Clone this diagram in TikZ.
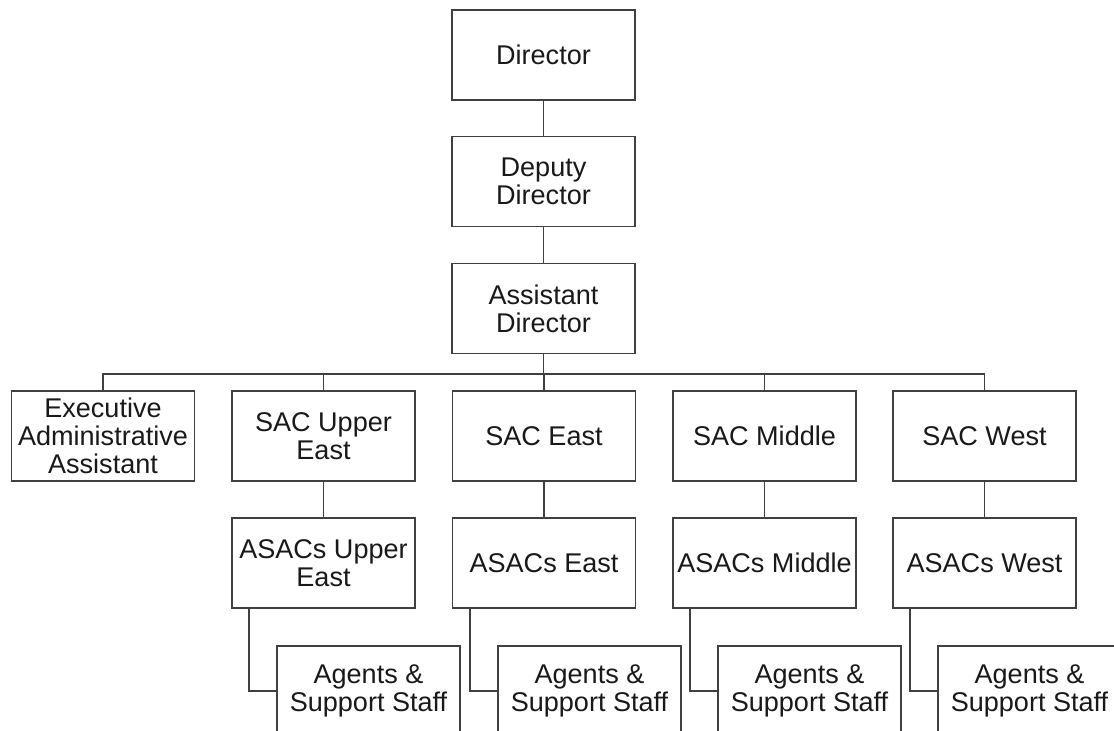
\documentclass[tikz,border=0pt]{standalone}
\usepackage{fontspec}
\setmainfont{Liberation Sans}
\usepackage{tikz}
\tikzset{every node/.style={rectangle,align=center,draw=black!75,line width=0.9pt,text=black!90,minimum width=3.66cm,minimum height=1.8cm,inner sep=1pt,font=\fontsize{15.4}{15.8}\selectfont}}
\tikzset{c/.style={draw=black!75,line width=0.9pt}}

\begin{document}
\begin{tikzpicture}[x=0.02cm,y=-0.02cm]
\useasboundingbox (0,0) rectangle (1114,730);
\clip (0,0) rectangle (1114,730);
\node(dir) at (543.5,55) {Director};
\node(dd) at (543.5,181.5) {Deputy\\Director};
\node(ad) at (543.5,308.5) {Assistant\\Director};
\node(ex) at (103,436) {Executive\\Administrative\\Assistant};
\node(ue) at (323.5,436) {SAC Upper\\East};
\node(ea) at (544,436) {SAC East};
\node(mi) at (764.5,436) {SAC Middle};
\node(we) at (984.5,436) {SAC West};
\node(aue) at (323.5,563) {ASACs Upper\\East};
\node(aea) at (544,563) {ASACs East};
\node(ami) at (764.5,563) {ASACs Middle};
\node(awe) at (984.5,563) {ASACs West};
\node(gue) at (368.5,691) {Agents \&\\Support Staff};
\node(gea) at (589.5,691) {Agents \&\\Support Staff};
\node(gmi) at (809.5,691) {Agents \&\\Support Staff};
\node(gwe) at (1029.5,691) {Agents \&\\Support Staff};

\foreach \s/\t in {dir/dd,dd/ad,ue/aue,ea/aea,mi/ami,we/awe}
  \draw[c] (\s) -- (\t);

\foreach \t in {ex,ue,ea,mi,we}
  \draw[c] (ad.south) -- ++(0,19.5) -| (\t.north);

\foreach \s/\t in {aue/gue,aea/gea,ami/gmi,awe/gwe}
  \draw[c] ([xshift=0.36cm]\s.south west) |- (\t.west);
\end{tikzpicture}
\end{document}
